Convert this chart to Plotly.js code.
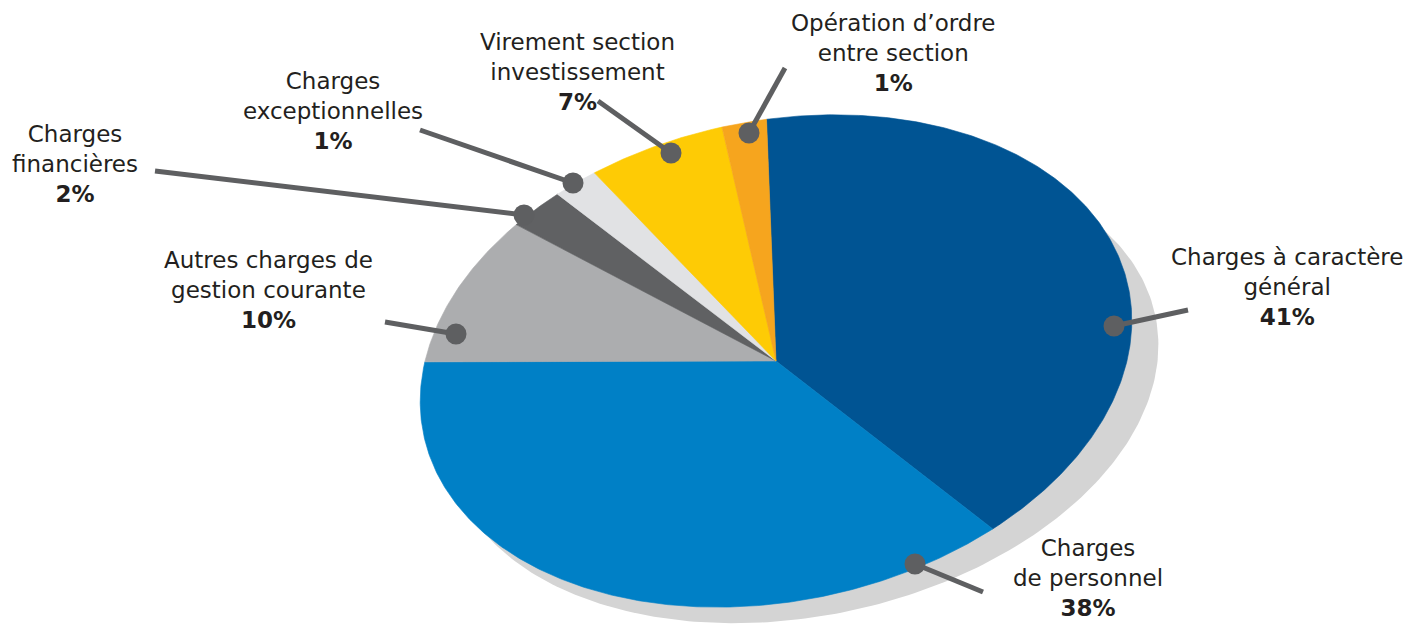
<!DOCTYPE html>
<html>
<head>
<meta charset="utf-8">
<script src="https://cdn.plot.ly/plotly-3.0.1.min.js"></script>
<style>html,body{margin:0;padding:0;background:#fff;}#chart{width:1414px;height:625px;}</style>
</head>
<body>
<div id="chart"></div>
<script>
// ---- data (clockwise from top) ----
var categories = [
  "Charges à caractère général",
  "Charges de personnel",
  "Autres charges de gestion courante",
  "Charges financières",
  "Charges exceptionnelles",
  "Virement section investissement",
  "Opération d’ordre entre section"
];
// share of the pie each slice covers (%)
var sliceShares = [40.0, 38.0, 9.4, 2.5, 2.0, 6.1, 2.0];
// percentages printed on the labels
var pctLabels = ["41%", "38%", "10%", "2%", "1%", "7%", "1%"];
// label text lines (without the percentage)
var labelLines = [
  "Charges à caractère<br>général",
  "Charges<br>de personnel",
  "Autres charges de<br>gestion courante",
  "Charges<br>financières",
  "Charges<br>exceptionnelles",
  "Virement section<br>investissement",
  "Opération d’ordre<br>entre section"
];

// ---- styles & geometry ----
var colors = ["#005493", "#0080c6", "#acadaf", "#606163", "#e1e2e4", "#fecb05", "#f6a51e"];
// tilted pie: ellipse centre, semi-axes, tilt of the major axis (deg, counter-clockwise)
var PIE = {cx: 776, cy: 361, a: 360, b: 240, tilt: 11.8};
var SHADOW = {cx: 802, cy: 389.5, a: 361, b: 226.5, tilt: 11.8, color: "#d4d4d4"};
var START = 83.6;                               // start angle (deg), slices run clockwise
var leader = "#5e5f61";
// label placement: text centre, line start, dot centre
var labelPos = [
  {tx: 1287, ty: 287, lx: 1188, ly: 310, dx: 1114, dy: 326},
  {tx: 1088, ty: 578, lx: 983,  ly: 592, dx: 915,  dy: 564},
  {tx: 268,  ty: 290, lx: 385,  ly: 322, dx: 456,  dy: 334},
  {tx: 75,   ty: 164, lx: 155,  ly: 171, dx: 524,  dy: 215},
  {tx: 333,  ty: 111, lx: 420,  ly: 130, dx: 573,  dy: 183},
  {tx: 577,  ty: 72,  lx: 598,  ly: 101, dx: 671,  dy: 153},
  {tx: 893,  ty: 53,  lx: 785,  ly: 68,  dx: 749,  dy: 133}
];

function pt(E, tDeg) {
  var phi = E.tilt * Math.PI / 180, t = tDeg * Math.PI / 180;
  var ac = E.a * Math.cos(t), bs = E.b * Math.sin(t);
  return [E.cx + ac * Math.cos(phi) - bs * Math.sin(phi),
          E.cy - (ac * Math.sin(phi) + bs * Math.cos(phi))];
}

var traces = [];
// shadow
(function(){
  var xs = [], ys = [];
  for (var a = 0; a <= 360; a += 1) {
    var p = pt(SHADOW, a);
    xs.push(p[0]); ys.push(p[1]);
  }
  traces.push({type: "scatter", mode: "lines", x: xs, y: ys, fill: "toself",
    fillcolor: SHADOW.color, line: {width: 0, color: SHADOW.color}, hoverinfo: "skip"});
})();

// slices
var total = sliceShares.reduce(function(s, v){ return s + v; }, 0);
var ang = START;
sliceShares.forEach(function(v, i){
  var span = v / total * 360;
  var a0 = ang, a1 = ang - span;
  var xs = [PIE.cx], ys = [PIE.cy];
  var n = Math.max(4, Math.ceil(span / 0.5));
  for (var k = 0; k <= n; k++) {
    var p = pt(PIE, a0 + (a1 - a0) * k / n);
    xs.push(p[0]); ys.push(p[1]);
  }
  xs.push(PIE.cx); ys.push(PIE.cy);
  traces.push({type: "scatter", mode: "lines", x: xs, y: ys, fill: "toself",
    fillcolor: colors[i], line: {width: 0.6, color: colors[i]},
    name: categories[i], hoverinfo: "name"});
  ang = a1;
});

var shapes = [], annotations = [];
labelPos.forEach(function(p, i){
  shapes.push({type: "line", xref: "x", yref: "y", x0: p.lx, y0: p.ly, x1: p.dx, y1: p.dy,
    line: {color: leader, width: 5}, layer: "above"});
  shapes.push({type: "circle", xref: "x", yref: "y", x0: p.dx - 10.5, x1: p.dx + 10.5,
    y0: p.dy - 10.5, y1: p.dy + 10.5, fillcolor: leader, line: {width: 0}, layer: "above"});
  annotations.push({xref: "x", yref: "y", x: p.tx, y: p.ty, xanchor: "center", yanchor: "middle",
    showarrow: false, align: "center",
    text: labelLines[i] + "<br><b>" + pctLabels[i] + "</b>",
    font: {family: "DejaVu Sans, sans-serif", size: 23, color: "#231f20"}});
});

var layout = {
  width: 1414, height: 625,
  margin: {l: 0, r: 0, t: 0, b: 0},
  paper_bgcolor: "#ffffff", plot_bgcolor: "#ffffff",
  showlegend: false, hovermode: false,
  xaxis: {range: [0, 1414], visible: false, fixedrange: true},
  yaxis: {range: [625, 0], visible: false, fixedrange: true},
  shapes: shapes, annotations: annotations
};
Plotly.newPlot("chart", traces, layout, {displayModeBar: false, staticPlot: true});
</script>
</body>
</html>
